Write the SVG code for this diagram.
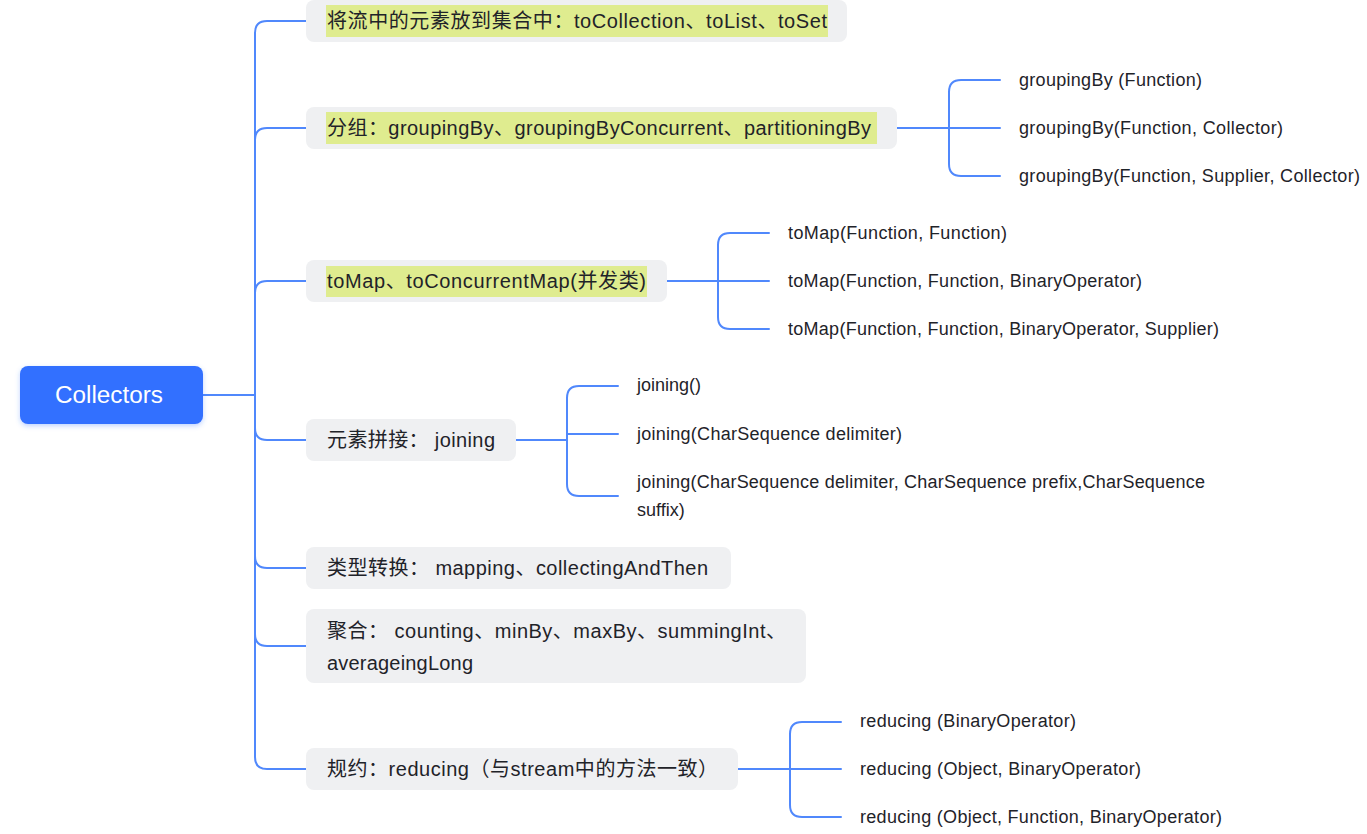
<svg xmlns="http://www.w3.org/2000/svg" width="1367" height="834" viewBox="0 0 1367 834">
  <defs>
    <filter id="shadow" x="-20%" y="-30%" width="140%" height="160%">
      <feDropShadow dx="0" dy="2" stdDeviation="2.5" flood-color="#3370ff" flood-opacity="0.3"/>
    </filter>
  </defs>
  <style>
    text { font-family: "Liberation Sans", "Noto Sans CJK SC", sans-serif; fill: #1f2329; }
    .box { fill: #eff0f2; }
    .hl { fill: #dfec8f; }
    .nt { font-size: 20px; }
    .ct { font-size: 18px; }
    .root { fill: #3370ff; }
    .rt { font-size: 23px; fill: #ffffff; }
    .conn path { fill: none; stroke: #5088fc; stroke-width: 2; stroke-linecap: round; }
  </style>
  <rect width="1367" height="834" fill="#ffffff"/>

  <g id="connectors" class="conn">
    <path d="M203,395 H255"/>
    <path d="M255,395 V33 Q255,21 267,21 H306"/>
    <path d="M255,395 V140 Q255,128 267,128 H306"/>
    <path d="M255,395 V293 Q255,281 267,281 H306"/>
    <path d="M255,395 V428 Q255,440 267,440 H306"/>
    <path d="M255,395 V556 Q255,568 267,568 H306"/>
    <path d="M255,395 V634 Q255,646 267,646 H306"/>
    <path d="M255,395 V757 Q255,769 267,769 H306"/>

    <path d="M897,128 H949"/>
    <path d="M949,128 V92 Q949,80 961,80 H1000"/>
    <path d="M949,128 H1000"/>
    <path d="M949,128 V164 Q949,176 961,176 H1000"/>

    <path d="M667,281 H718"/>
    <path d="M718,281 V245 Q718,233 730,233 H769"/>
    <path d="M718,281 H769"/>
    <path d="M718,281 V317 Q718,329 730,329 H769"/>

    <path d="M516,440 H567"/>
    <path d="M567,440 V398 Q567,386 579,386 H618"/>
    <path d="M567,440 V434 H618"/>
    <path d="M567,440 V484 Q567,496 579,496 H618"/>

    <path d="M738,769 H790"/>
    <path d="M790,769 V734 Q790,722 802,722 H841"/>
    <path d="M790,769 H841"/>
    <path d="M790,769 V805 Q790,817 802,817 H841"/>
  </g>

  <g id="root">
    <rect class="root" x="20" y="366" width="183" height="58" rx="8" filter="url(#shadow)"/>
    <text class="rt" x="55" y="403" textLength="108" lengthAdjust="spacingAndGlyphs">Collectors</text>
  </g>

  <g id="n1">
    <rect class="box" x="306" y="0" width="541" height="42" rx="8"/>
    <rect class="hl" x="326" y="5" width="502" height="32"/>
    <text class="nt" x="327" y="28" textLength="500">将流中的元素放到集合中：toCollection、toList、toSet</text>
  </g>

  <g id="n2">
    <rect class="box" x="306" y="107" width="591" height="42" rx="8"/>
    <rect class="hl" x="326" y="112" width="551" height="32"/>
    <text class="nt" x="327" y="135" textLength="544">分组：groupingBy、groupingByConcurrent、partitioningBy</text>
  </g>
  <g id="n2c1"><text class="ct" x="1019" y="86" textLength="183">groupingBy (Function)</text></g>
  <g id="n2c2"><text class="ct" x="1019" y="134" textLength="264">groupingBy(Function, Collector)</text></g>
  <g id="n2c3"><text class="ct" x="1019" y="182" textLength="341">groupingBy(Function, Supplier, Collector)</text></g>

  <g id="n3">
    <rect class="box" x="306" y="260" width="361" height="42" rx="8"/>
    <rect class="hl" x="326" y="266" width="321" height="31"/>
    <text class="nt" x="327" y="288" textLength="319">toMap、toConcurrentMap(并发类)</text>
  </g>
  <g id="n3c1"><text class="ct" x="788" y="239" textLength="219">toMap(Function, Function)</text></g>
  <g id="n3c2"><text class="ct" x="788" y="287" textLength="354">toMap(Function, Function, BinaryOperator)</text></g>
  <g id="n3c3"><text class="ct" x="788" y="335" textLength="431">toMap(Function, Function, BinaryOperator, Supplier)</text></g>

  <g id="n4">
    <rect class="box" x="306" y="419" width="210" height="42" rx="8"/>
    <text class="nt" x="327" y="447" textLength="168">元素拼接： joining</text>
  </g>
  <g id="n4c1"><text class="ct" x="637" y="391">joining()</text></g>
  <g id="n4c2"><text class="ct" x="637" y="440" textLength="265">joining(CharSequence delimiter)</text></g>
  <g id="n4c3">
    <text class="ct" x="637" y="488" textLength="568">joining(CharSequence delimiter, CharSequence prefix,CharSequence</text>
    <text class="ct" x="637" y="516">suffix)</text>
  </g>

  <g id="n5">
    <rect class="box" x="306" y="547" width="425" height="42" rx="8"/>
    <text class="nt" x="327" y="575" textLength="381">类型转换： mapping、collectingAndThen</text>
  </g>

  <g id="n6">
    <rect class="box" x="306" y="609" width="500" height="74" rx="8"/>
    <text class="nt" x="327" y="638" textLength="459">聚合： counting、minBy、maxBy、summingInt、</text>
    <text class="nt" x="327" y="670" textLength="146">averageingLong</text>
  </g>

  <g id="n7">
    <rect class="box" x="306" y="748" width="432" height="42" rx="8"/>
    <text class="nt" x="327" y="776" textLength="391">规约：reducing（与stream中的方法一致）</text>
  </g>
  <g id="n7c1"><text class="ct" x="860" y="727" textLength="216">reducing (BinaryOperator)</text></g>
  <g id="n7c2"><text class="ct" x="860" y="775" textLength="281">reducing (Object, BinaryOperator)</text></g>
  <g id="n7c3"><text class="ct" x="860" y="823" textLength="362">reducing (Object, Function, BinaryOperator)</text></g>
</svg>
